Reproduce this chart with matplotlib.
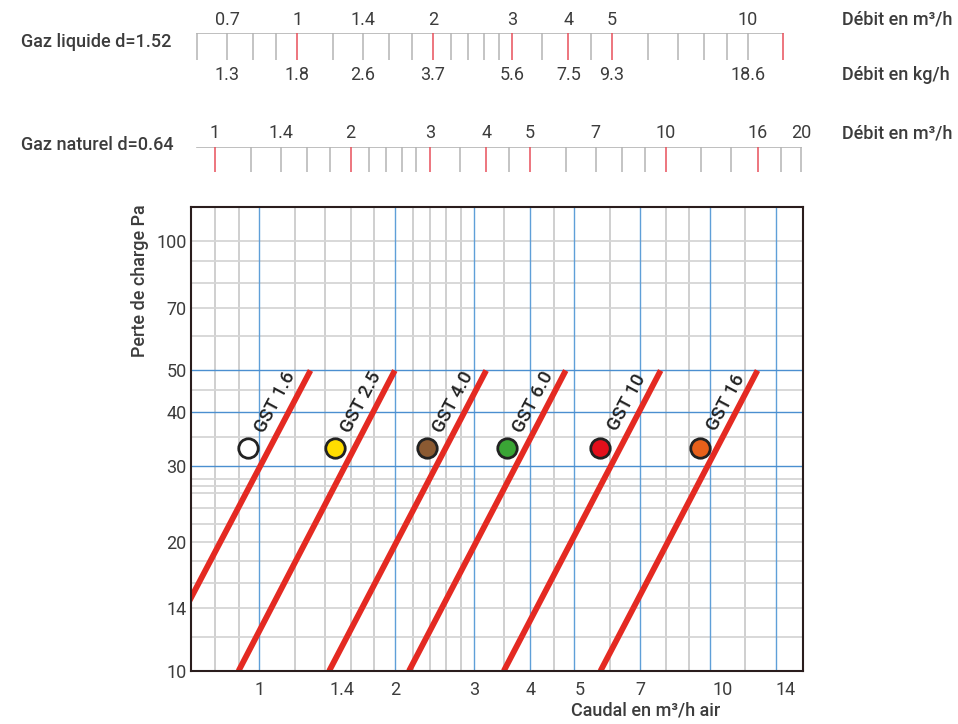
import matplotlib.pyplot as plt
import matplotlib.transforms as mtransforms

plt.rcParams['font.family'] = ['Roboto', 'DejaVu Sans']

# --- abaque principal (débit air / perte de charge) ---
modeles = ["GST 1.6", "GST 2.5", "GST 4.0", "GST 6.0", "GST 10", "GST 16"]
couleurs = ["#ffffff", "#ffdd00", "#8b5a32", "#3aa535", "#e30f1b", "#e8601a"]
q_bas = [0.58, 0.90, 1.43, 2.15, 3.49, 5.72]      # m3/h air à 10 Pa
q_haut = [1.30, 2.00, 3.19, 4.79, 7.78, 12.76]    # m3/h air à 50 Pa
p_bas = 10
p_haut = 50
q_point = [0.947, 1.475, 2.36, 3.55, 5.72, 9.5]
p_point = 33

x_ticks = [1, 1.4, 2, 3, 4, 5, 7, 10, 14]
y_ticks = [10, 14, 20, 30, 40, 50, 70, 100]
x_bleu = [1, 2, 3, 4, 5, 7, 10, 14]
x_gris = [0.8, 0.9, 1.2, 1.4, 1.6, 1.8, 2.2, 2.4, 2.6, 2.8, 3.5, 4.5, 6, 8, 9, 12]
y_bleu = [30, 40, 50]
y_gris = [12, 14, 16, 18, 20, 22, 24, 26, 27, 28, 35, 45, 60, 70, 80, 90, 100]

# --- échelles gaz ---
liq_graduations = [0.6, 0.7, 0.8, 0.9, 1, 1.2, 1.4, 1.6, 1.8, 2, 2.2, 2.4, 2.6, 2.8,
                   3, 3.5, 4, 4.5, 5, 6, 7, 8, 9, 10, 12]
liq_rouges = [1, 2, 3, 4, 5, 12]
liq_m3h = [0.7, 1, 1.4, 2, 3, 4, 5, 10]
liq_kgh = ["1.3", "1.8", "2.6", "3.7", "5.6", "7.5", "9.3", "18.6"]
liq_facteur = 1.214   # équivalence débit air

nat_graduations = [1, 1.2, 1.4, 1.6, 1.8, 2, 2.2, 2.4, 2.6, 2.8, 3, 3.5, 4, 4.5, 5,
                   6, 7, 8, 9, 10, 12, 14, 16, 18, 20]
nat_rouges = [1, 2, 3, 4, 5, 10, 16]
nat_m3h = [1, 1.4, 2, 3, 4, 5, 7, 10, 16, 20]
nat_ligne = [0.91, 20]
nat_facteur = 0.798

xlim = (0.706, 16.1)
ylim = (10, 120)

W, H = 958, 724
texte = "#3c3c3c"
gris = "#b4b4b4"
rouge_grad = "#e8505b"


def fx(px):
    return px / W


def fy(py):
    return 1 - py / H


fig = plt.figure(figsize=(W / 100, H / 100), dpi=100)

# abaque
ax = fig.add_axes([fx(191), fy(671), fx(612), 464 / H])
ax.set_xscale("log")
ax.set_yscale("log")
ax.set_xlim(*xlim)
ax.set_ylim(*ylim)

for v in x_gris:
    ax.axvline(v, color="#cfcfcf", lw=1.4, zorder=1)
for v in y_gris:
    ax.axhline(v, color="#d6d6d6", lw=1.3, zorder=1)
for v in x_bleu:
    ax.axvline(v, color="#5f9fd8", lw=1.0, zorder=2)
for v in y_bleu:
    ax.axhline(v, color="#4b8fd0", lw=1.0, zorder=2)

for i in range(len(modeles)):
    ax.plot([q_bas[i], q_haut[i]], [p_bas, p_haut], color="#e42a22", lw=4.2,
            solid_capstyle="butt", zorder=3)
    ax.plot(q_point[i], p_point, "o", ms=14, mfc=couleurs[i], mec="#222222",
            mew=2, zorder=4)
    ax.annotate(modeles[i], (q_point[i], p_point), xytext=(19, 33),
                textcoords="offset points", rotation=62, rotation_mode="anchor",
                ha="center", va="center", fontsize=13.5, fontweight="medium",
                color="#222222")

ax.set_xticks(x_ticks)
ax.set_xticklabels([f"{v:g}" for v in x_ticks])
ax.set_yticks(y_ticks)
ax.set_yticklabels([f"{v:g}" for v in y_ticks])
ax.minorticks_off()
ax.tick_params(axis="both", length=0, labelsize=13, labelcolor=texte)
ax.tick_params(axis="x", pad=7)
ax.tick_params(axis="y", pad=3)

# les libellés de l'axe x sont légèrement décalés sur l'original
decalage = {1.4: 12, 5: 4, 10: 9, 14: 7}
for v, lab in zip(x_ticks, ax.get_xticklabels()):
    if v in decalage:
        dx = decalage[v] / 72
        lab.set_transform(lab.get_transform() +
                          mtransforms.ScaledTranslation(dx, 0, fig.dpi_scale_trans))

for s in ax.spines.values():
    s.set_color("#2a1d1d")
    s.set_linewidth(1.5)
    s.set_zorder(5)

ax.set_ylabel("Perte de charge Pa", fontsize=13, fontweight="medium", color=texte)
ax.yaxis.set_label_coords(-0.068, 0.842)
ax.set_xlabel("Caudal en m³/h air", fontsize=13, fontweight="medium", color=texte)
ax.xaxis.set_label_coords(0.7435, -0.066)

# échelle gaz liquide
ax_liq = fig.add_axes([fx(191), fy(60), fx(612), 27 / H])
ax_liq.set_xscale("log")
ax_liq.set_xlim(xlim[0] / liq_facteur, xlim[1] / liq_facteur)
ax_liq.set_ylim(0, 1)
ax_liq.axis("off")
ax_liq.plot([liq_graduations[0], liq_graduations[-1]], [1, 1], color=gris, lw=1.2)
for v in liq_graduations:
    c = rouge_grad if v in liq_rouges else gris
    ax_liq.plot([v, v], [0, 1], color=c, lw=1.1)
for v, k in zip(liq_m3h, liq_kgh):
    ax_liq.text(v, 1.48, f"{v:g}", ha="center", va="center", fontsize=13, color=texte)
    ax_liq.text(v, -0.56, k, ha="center", va="center", fontsize=13, color=texte)

# échelle gaz naturel
ax_nat = fig.add_axes([fx(191), fy(172), fx(612), 25.3 / H])
ax_nat.set_xscale("log")
ax_nat.set_xlim(xlim[0] / nat_facteur, xlim[1] / nat_facteur)
ax_nat.set_ylim(0, 1)
ax_nat.axis("off")
ax_nat.plot(nat_ligne, [1, 1], color=gris, lw=1.2)
for v in nat_graduations:
    c = rouge_grad if v in nat_rouges else gris
    ax_nat.plot([v, v], [0, 1], color=c, lw=1.1)
for v in nat_m3h:
    ax_nat.text(v, 1.55, f"{v:g}", ha="center", va="center", fontsize=13, color=texte)

# libellés des échelles
fig.text(fx(171), fy(42), "Gaz liquide d=1.52", ha="right", va="center",
         fontsize=13, fontweight="medium", color=texte)
fig.text(fx(174), fy(145), "Gaz naturel d=0.64", ha="right", va="center",
         fontsize=13, fontweight="medium", color=texte)
fig.text(fx(842), fy(20), "Débit en m³/h", ha="left", va="center",
         fontsize=13, fontweight="medium", color=texte)
fig.text(fx(842), fy(75), "Débit en kg/h", ha="left", va="center",
         fontsize=13, fontweight="medium", color=texte)
fig.text(fx(842), fy(133), "Débit en m³/h", ha="left", va="center",
         fontsize=13, fontweight="medium", color=texte)

fig.savefig("out.png", dpi=100)
